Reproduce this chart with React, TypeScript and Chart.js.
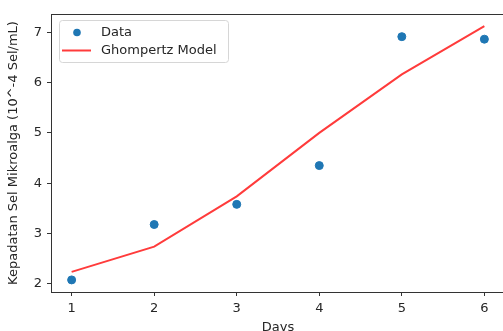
import React, { useEffect, useRef } from "react";
import { Chart, registerables } from "chart.js";

Chart.register(...registerables);

const days = [1, 2, 3, 4, 5, 6];
const dataValues = [2.08, 3.18, 3.58, 4.35, 6.91, 6.86];
const modelValues = [2.24, 2.74, 3.74, 5.0, 6.16, 7.12];
const yTicks = [2, 3, 4, 5, 6, 7];
const xTicks = [1, 2, 3, 4, 5, 6];

const FONT = "'DejaVu Sans', sans-serif";
const TEXT = "#262626";
const FS = 13;

const legendPlugin = {
  id: "innerLegend",
  afterDraw(chart: any) {
    const ctx = chart.ctx;
    const x0 = 59.5, y0 = 20.5, w = 169, h = 42;
    ctx.save();
    ctx.fillStyle = "rgba(255,255,255,0.8)";
    ctx.strokeStyle = "#d6d6d6";
    ctx.lineWidth = 1;
    const r = 3;
    ctx.beginPath();
    ctx.moveTo(x0 + r, y0);
    ctx.lineTo(x0 + w - r, y0);
    ctx.arcTo(x0 + w, y0, x0 + w, y0 + r, r);
    ctx.lineTo(x0 + w, y0 + h - r);
    ctx.arcTo(x0 + w, y0 + h, x0 + w - r, y0 + h, r);
    ctx.lineTo(x0 + r, y0 + h);
    ctx.arcTo(x0, y0 + h, x0, y0 + h - r, r);
    ctx.lineTo(x0, y0 + r);
    ctx.arcTo(x0, y0, x0 + r, y0, r);
    ctx.closePath();
    ctx.fill();
    ctx.stroke();
    ctx.fillStyle = "#1f77b4";
    ctx.beginPath();
    ctx.arc(77, 32.5, 3.8, 0, Math.PI * 2);
    ctx.fill();
    ctx.strokeStyle = "#ff3b3b";
    ctx.lineWidth = 2;
    ctx.beginPath();
    ctx.moveTo(62, 50.5);
    ctx.lineTo(91, 50.5);
    ctx.stroke();
    ctx.fillStyle = TEXT;
    ctx.font = `${FS}px ${FONT}`;
    ctx.textBaseline = "middle";
    ctx.textAlign = "left";
    ctx.fillText("Data", 101, 32.5);
    ctx.fillText("Ghompertz Model", 101, 50.5);
    ctx.restore();
  },
};

export default function App() {
  const ref = useRef<HTMLCanvasElement | null>(null);
  useEffect(() => {
    if (!ref.current) return;
    const chart = new Chart(ref.current, {
      type: "scatter",
      data: {
        datasets: [
          {
            label: "Data",
            data: days.map((d, i) => ({ x: d, y: dataValues[i] })),
            backgroundColor: "#1f77b4",
            borderColor: "#1f77b4",
            pointRadius: 4,
            showLine: false,
          },
          {
            label: "Ghompertz Model",
            type: "line",
            data: days.map((d, i) => ({ x: d, y: modelValues[i] })),
            borderColor: "#ff3b3b",
            backgroundColor: "#ff3b3b",
            borderWidth: 2,
            pointRadius: 0,
            fill: false,
            tension: 0,
          } as any,
        ],
      },
      options: {
        animation: false,
        responsive: false,
        events: [],
        layout: { padding: { top: 14, right: 4, left: 0, bottom: 0 } },
        plugins: { legend: { display: false }, tooltip: { enabled: false } },
        scales: {
          x: {
            type: "linear",
            min: 0.75,
            max: 6.25,
            afterBuildTicks: (s: any) => {
              s.ticks = xTicks.map((v) => ({ value: v }));
            },
            afterFit: (s: any) => {
              s.height = 39;
            },
            ticks: { font: { family: FONT, size: FS }, color: TEXT, padding: 5 },
            grid: {
              drawOnChartArea: false,
              drawTicks: true,
              tickLength: 4,
              color: "#333",
            },
            border: { color: "#333", width: 1 },
            title: {
              display: true,
              text: "Days",
              font: { family: FONT, size: FS },
              color: TEXT,
              padding: { top: 0, bottom: -4 },
            },
          },
          y: {
            type: "linear",
            min: 1.84,
            max: 7.36,
            afterBuildTicks: (s: any) => {
              s.ticks = yTicks.map((v) => ({ value: v }));
            },
            afterFit: (s: any) => {
              s.width = 51;
            },
            ticks: { font: { family: FONT, size: FS }, color: TEXT, padding: 5 },
            grid: {
              drawOnChartArea: false,
              drawTicks: true,
              tickLength: 4,
              color: "#333",
            },
            border: { color: "#333", width: 1 },
            title: {
              display: true,
              text: "Kepadatan Sel Mikroalga (10^-4 Sel/mL)",
              font: { family: FONT, size: FS },
              color: TEXT,
              padding: { top: 6, bottom: 0 },
            },
          },
        },
      },
      plugins: [
        {
          id: "topSpine",
          afterDraw(chart: any) {
            const { ctx, chartArea } = chart;
            ctx.save();
            ctx.strokeStyle = "#333";
            ctx.lineWidth = 1;
            ctx.beginPath();
            ctx.moveTo(chartArea.left, chartArea.top + 0.5);
            ctx.lineTo(chartArea.right, chartArea.top + 0.5);
            ctx.moveTo(chartArea.right - 0.5, chartArea.top);
            ctx.lineTo(chartArea.right - 0.5, chartArea.bottom);
            ctx.stroke();
            ctx.restore();
          },
        },
        legendPlugin,
      ],
    });
    return () => chart.destroy();
  }, []);
  return (
    <div
      style={{
        position: "fixed",
        left: 0,
        top: 0,
        width: 503,
        height: 331,
        overflow: "hidden",
        background: "#fff",
      }}
    >
      <canvas ref={ref} width={510} height={331} style={{ width: 510, height: 331, display: "block" }} />
    </div>
  );
}
